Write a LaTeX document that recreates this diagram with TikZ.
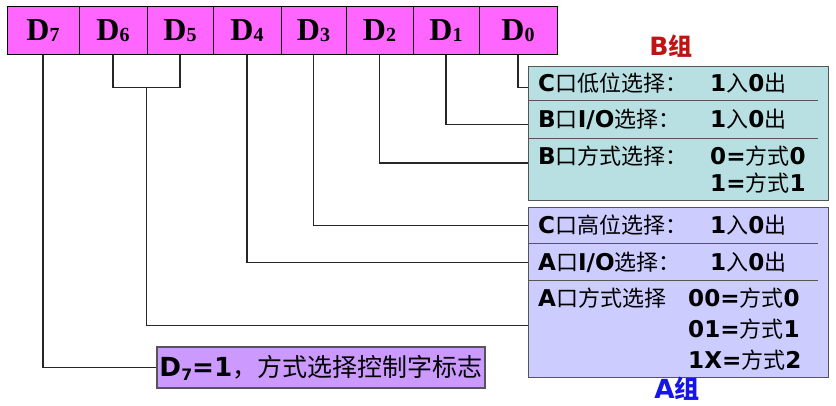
\documentclass[tikz,border=0pt]{standalone}
\usepackage{fontspec}
\setmainfont{Noto Sans CJK SC}
\newfontfamily\latfont{DejaVu Sans}[Scale=1.05]
\newfontfamily\regfont{Liberation Serif}
\usetikzlibrary{positioning,calc}
\definecolor{bitpink}{RGB}{255,102,255}
\definecolor{grpBfill}{RGB}{184,224,227}
\definecolor{grpAfill}{RGB}{204,204,255}
\definecolor{flagfill}{RGB}{204,153,255}
\definecolor{edgegray}{RGB}{85,85,85}
\definecolor{titleB}{RGB}{190,20,20}
\definecolor{titleA}{RGB}{20,20,235}
\newcommand\ltn[1]{{\latfont\bfseries #1}}
\newcommand\bitlbl[1]{{\regfont\bfseries\fontsize{32}{32}\selectfont D\raisebox{-1pt}{\fontsize{20}{20}\selectfont #1}}}
\tikzset{
  bitcell/.style={draw=black, fill=bitpink, line width=1pt, minimum height=48pt, inner sep=0pt},
  grpbox/.style={draw=edgegray, line width=1.2pt, minimum width=300pt, inner sep=0pt},
  rowtxt/.style={minimum width=300pt, text width=280pt, inner sep=0pt, align=left, font=\fontsize{22}{27}\selectfont},
  sepline/.style={draw=edgegray, line width=0.8pt},
  wire/.style={draw=black!85, line width=1.1pt},
}
\begin{document}
\begin{tikzpicture}[x=1pt,y=-1pt]
\useasboundingbox (0,0) rectangle (836,406);
% control word
\foreach \b/\l/\r in {7/7/79,6/79/147,5/147/213,4/213/281,3/281/346,2/346/413,1/413/479,0/479/557}
  \node[bitcell, minimum width={(\r-\l)*1pt}] (d\b) at ({(\l+\r)/2},31) {\bitlbl{\b}};
% B group
\node[grpbox, fill=grpBfill, anchor=north west, minimum height=134pt] (grpB) at (528,66) {};
\node[rowtxt, anchor=north west, minimum height=34pt] (bC) at (grpB.north west)
  {\makebox[172pt][l]{\ltn{C}口低位选择：}\ltn{1}入\ltn{0}出};
\node[rowtxt, below=0pt of bC, minimum height=38pt] (bIO)
  {\makebox[172pt][l]{\ltn{B}口\ltn{I/O}选择：}\ltn{1}入\ltn{0}出};
\node[rowtxt, below=0pt of bIO, minimum height=62pt] (bMode)
  {\makebox[172pt][l]{\ltn{B}口方式选择：}\ltn{0=}方式\ltn{0}\\
   \hspace*{172pt}\ltn{1=}方式\ltn{1}};
\draw[sepline] (bC.south west) -- ++(290,0);
\draw[sepline] (bIO.south west) -- ++(290,0);
\node[text=titleB, font=\bfseries\fontsize{24}{24}\selectfont] (labB) at (671,46) {\ltn{B}组};
% A group
\node[grpbox, fill=grpAfill, anchor=north west, minimum height=170pt] (grpA) at (528,207) {};
\node[rowtxt, anchor=north west, minimum height=36pt] (aC) at (grpA.north west)
  {\makebox[172pt][l]{\ltn{C}口高位选择：}\ltn{1}入\ltn{0}出};
\node[rowtxt, below=0pt of aC, minimum height=37pt] (aIO)
  {\makebox[172pt][l]{\ltn{A}口\ltn{I/O}选择：}\ltn{1}入\ltn{0}出};
\node[rowtxt, below=0pt of aIO, minimum height=97pt, font=\fontsize{22}{31}\selectfont] (aMode)
  {\makebox[150pt][l]{\ltn{A}口方式选择}\ltn{00=}方式\ltn{0}\\
   \hspace*{150pt}\ltn{01=}方式\ltn{1}\\
   \hspace*{150pt}\ltn{1X=}方式\ltn{2}};
\draw[sepline] (aC.south west) -- ++(290,0);
\draw[sepline] (aIO.south west) -- ++(290,0);
\node[text=titleA, font=\bfseries\fontsize{25}{25}\selectfont] (labA) at (677,389) {\ltn{A}组};
% D7 flag
\node[draw=edgegray, fill=flagfill, line width=1.2pt, minimum width=328pt, minimum height=41pt,
  inner sep=0pt, font=\fontsize{25}{25}\selectfont] (flag) at (321,367.5)
  {\ltn{D\raisebox{-0.15em}{\fontsize{15}{15}\selectfont 7}=1}，方式选择控制字标志};
% wires
\draw[wire] (d0.south) |- ([yshift=-4pt]bC.west);
\draw[wire] (d1.south) |- ([yshift=-5pt]bIO.west);
\draw[wire] (d2.south) |- ([yshift=7pt]bMode.west);
\draw[wire] (d3.south) |- (aC.west);
\draw[wire] (d4.south) |- (aIO.west);
\draw[wire] (d6.south) -- ++(0,32) coordinate (j6) -| (d5.south);
\coordinate (j65) at ($(j6)!0.5!(j6 -| d5.south)$);
\draw[wire] (j65) |- ([yshift=4pt]aMode.west);
\draw[wire] (d7.south) |- (flag.west);
\end{tikzpicture}
\end{document}
